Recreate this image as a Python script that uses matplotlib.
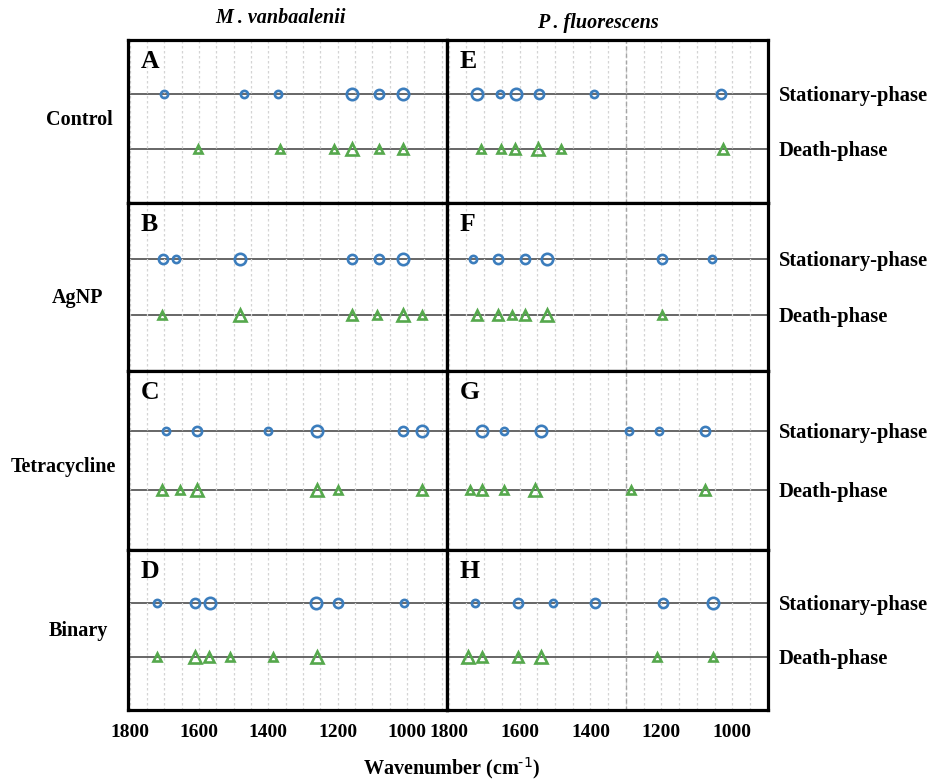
import matplotlib.pyplot as plt
from matplotlib.ticker import MultipleLocator, FixedLocator

plt.rcParams['font.family'] = ['Liberation Serif', 'DejaVu Serif']
plt.rcParams['mathtext.default'] = 'regular'

W, H = 934, 780

# band positions (cm-1) and relative band size (1 small .. 3 large)
A_stat = [1700, 1470, 1372, 1158, 1081, 1011]
A_stat_size = [1, 1, 1, 3, 2, 3]
A_death = [1602, 1368, 1212, 1158, 1082, 1011]
A_death_size = [1, 1, 1, 3, 1, 2]

B_stat = [1703, 1667, 1482, 1159, 1081, 1013]
B_stat_size = [2, 1, 3, 2, 2, 3]
B_death = [1706, 1482, 1159, 1086, 1013, 956]
B_death_size = [1, 3, 2, 1, 3, 1]

C_stat = [1695, 1605, 1400, 1260, 1013, 957]
C_stat_size = [1, 2, 1, 3, 2, 3]
C_death = [1707, 1655, 1606, 1260, 1200, 957]
C_death_size = [2, 1, 3, 3, 1, 2]

D_stat = [1721, 1611, 1568, 1263, 1199, 1009]
D_stat_size = [1, 2, 3, 3, 2, 1]
D_death = [1720, 1611, 1570, 1510, 1388, 1260]
D_death_size = [1, 3, 2, 1, 1, 3]

E_stat = [1719, 1655, 1609, 1544, 1389, 1032]
E_stat_size = [3, 1, 3, 2, 1, 2]
E_death = [1709, 1652, 1612, 1547, 1484, 1025]
E_death_size = [1, 1, 2, 3, 1, 2]

F_stat = [1731, 1662, 1585, 1524, 1197, 1058]
F_stat_size = [1, 2, 2, 3, 2, 1]
F_death = [1720, 1662, 1622, 1586, 1524, 1197]
F_death_size = [2, 2, 1, 2, 3, 1]

G_stat = [1706, 1643, 1541, 1290, 1207, 1076]
G_stat_size = [3, 1, 3, 1, 1, 2]
G_death = [1740, 1707, 1643, 1556, 1287, 1076]
G_death_size = [1, 2, 1, 3, 1, 2]

H_stat = [1726, 1606, 1505, 1388, 1194, 1054]
H_stat_size = [1, 2, 1, 2, 2, 3]
H_death = [1745, 1705, 1604, 1541, 1211, 1054]
H_death_size = [3, 2, 2, 3, 1, 1]

treatments = ['Control', 'AgNP', 'Tetracycline', 'Binary']
species = ['M . vanbaalenii', 'P . fluorescens']
phases = ['Stationary-phase', 'Death-phase']
xticks = [1800, 1600, 1400, 1200, 1000]
ref_line = 1300

panels = {
    'A': (A_stat, A_stat_size, A_death, A_death_size),
    'B': (B_stat, B_stat_size, B_death, B_death_size),
    'C': (C_stat, C_stat_size, C_death, C_death_size),
    'D': (D_stat, D_stat_size, D_death, D_death_size),
    'E': (E_stat, E_stat_size, E_death, E_death_size),
    'F': (F_stat, F_stat_size, F_death, F_death_size),
    'G': (G_stat, G_stat_size, G_death, G_death_size),
    'H': (H_stat, H_stat_size, H_death, H_death_size),
}

blue = '#3b7dbd'
green = '#55a84c'
msize = {1: 5.2, 2: 6.6, 3: 8.2}

fig = plt.figure(figsize=(W / 100, H / 100), dpi=100)


def px_rect(x0, y0, x1, y1):
    return [x0 / W, 1 - y1 / H, (x1 - x0) / W, (y1 - y0) / H]


def ftext(x, y, s, **kw):
    fig.text(x / W, 1 - y / H, s, **kw)


row_edges = [40, 203, 371, 550, 710]
col_edges = [(128, 447, (1805, 885), False), (447, 768, (1805, 899), True)]
letters = [['A', 'B', 'C', 'D'], ['E', 'F', 'G', 'H']]

for c, (x0, x1, xl, has_ref) in enumerate(col_edges):
    for r in range(4):
        y0, y1 = row_edges[r], row_edges[r + 1]
        ax = fig.add_axes(px_rect(x0, y0, x1, y1))
        ax.set_xlim(*xl)
        ax.set_ylim(0, 3)
        ax.xaxis.set_major_locator(FixedLocator(xticks))
        ax.xaxis.set_minor_locator(MultipleLocator(50))
        ax.grid(which='both', axis='x', color='#d4d4d4', ls=(0, (2, 2)), lw=0.9)
        if has_ref:
            ax.axvline(ref_line, color='#a5a5a5', ls=(0, (3, 2)), lw=1.0)
        ax.axhline(2, color='#5a5a5a', lw=1.3, zorder=1)
        ax.axhline(1, color='#5a5a5a', lw=1.3, zorder=1)
        ax.set_yticks([])
        ax.tick_params(which='both', length=0)
        for sp in ax.spines.values():
            sp.set_linewidth(2.3)
            sp.set_zorder(5)
        if r == 3:
            ax.tick_params(axis='x', pad=10, labelsize=14)
            for lab in ax.get_xticklabels():
                lab.set_fontweight('bold')
        else:
            ax.set_xticklabels([])

        key = letters[c][r]
        st, st_s, de, de_s = panels[key]
        for w, s in zip(st, st_s):
            ax.plot(w, 2, 'o', ms=msize[s], mfc='none', mec=blue, mew=1.9, zorder=3)
        for w, s in zip(de, de_s):
            ax.plot(w, 1, '^', ms=msize[s], mfc='none', mec=green, mew=1.9, zorder=3)

        ftext(x0 + 13, y0 + 28, key, fontsize=18.5, fontweight='bold', va='baseline')

        if c == 1:
            h = y1 - y0
            ftext(779, y0 + h / 3 + 7, phases[0], fontsize=14.8, fontweight='bold', va='baseline')
            ftext(779, y0 + 2 * h / 3 + 7, phases[1], fontsize=14.8, fontweight='bold', va='baseline')

row_label_pos = [(79, 120), (78, 298), (63, 467), (78, 631)]
for name, (x, y) in zip(treatments, row_label_pos):
    ftext(x, y, name, fontsize=14.5, fontweight='bold', ha='center', va='center')

ftext(281, 18, species[0], fontsize=14.5, fontweight='bold', style='italic', ha='center', va='center')
ftext(598, 23, species[1], fontsize=14.5, fontweight='bold', style='italic', ha='center', va='center')
ftext(452, 768, r'Wavenumber (cm$^{\text{-1}}$)', fontsize=14.5, fontweight='bold', ha='center', va='center')

fig.savefig('out.png', dpi=100)
